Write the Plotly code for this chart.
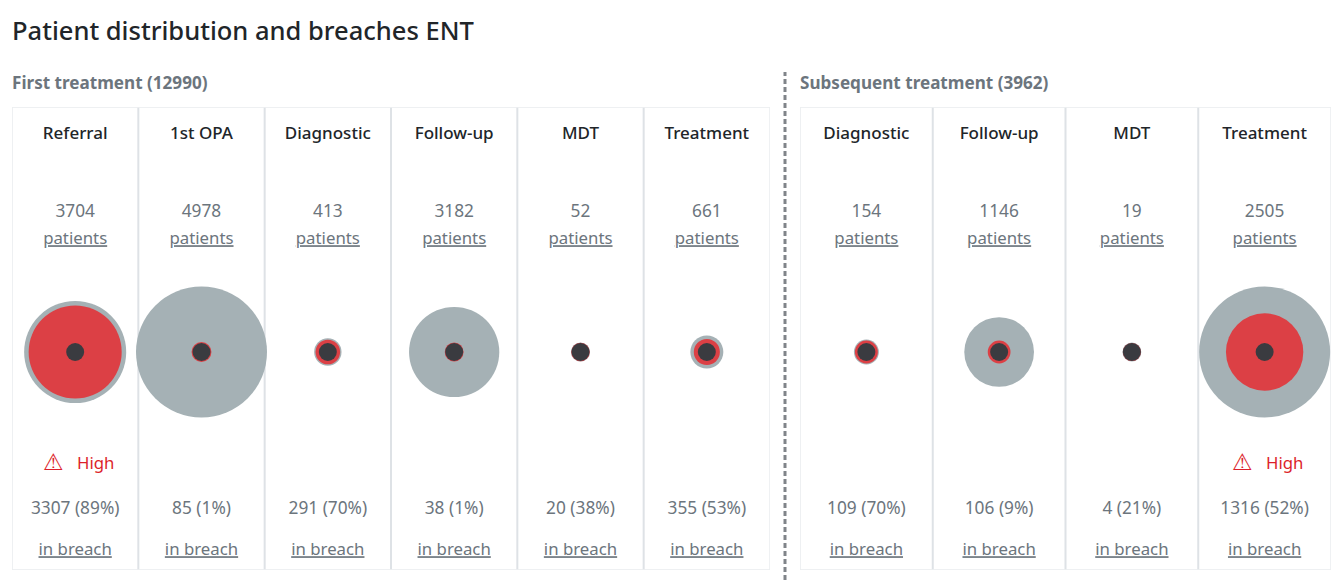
import plotly.graph_objects as go

TITLE = "Patient distribution and breaches ENT"

first_label = "First treatment (12990)"
first_stages = ["Referral", "1st OPA", "Diagnostic", "Follow-up", "MDT", "Treatment"]
first_patients = [3704, 4978, 413, 3182, 52, 661]
first_breach = [3307, 85, 291, 38, 20, 355]
first_pct = [89, 1, 70, 1, 38, 53]
first_high = [True, False, False, False, False, False]

second_label = "Subsequent treatment (3962)"
second_stages = ["Diagnostic", "Follow-up", "MDT", "Treatment"]
second_patients = [154, 1146, 19, 2505]
second_breach = [109, 106, 4, 1316]
second_pct = [70, 9, 21, 52]
second_high = [False, False, False, True]

W, H = 1340, 580
FONT = "Noto Sans"
GREY, RED, DARK = "#a5b1b5", "#dc4045", "#3a3b40"
MUTED, INK, ALERT, BORDER = "#6c757d", "#212529", "#dc1f2b", "#dee2e6"
ROW = dict(head=135, count=213, pat=240, mid=352, high=462, breach=510, link=551)
TOP, BOTTOM = 107.5, 569.5
MIN_D, SPAN_D = 18, 113


def size(value, biggest):
    return MIN_D + SPAN_D * value / biggest


fig = go.Figure()
shapes = []
annotations = []


def panel(suffix, stages, patients, breach, pct, high, left, right):
    xa, ya = "x" + suffix, "y" + suffix
    biggest = max(patients)
    n = len(stages)

    def rowtrace(text, row, color, sz=16.8, weight=None):
        fig.add_trace(go.Scatter(
            x=stages, y=[ROW[row]] * len(text), text=text,
            mode="text", textposition="middle center", xaxis=xa, yaxis=ya,
            textfont=dict(family=FONT, size=sz, color=color, weight=weight),
            hoverinfo="skip", cliponaxis=False, showlegend=False))

    for vals, col in ((patients, GREY), (breach, RED)):
        fig.add_trace(go.Scatter(
            x=stages, y=[ROW["mid"]] * n, mode="markers", xaxis=xa, yaxis=ya,
            marker=dict(size=[size(v, biggest) for v in vals], color=col, opacity=1, line_width=0),
            cliponaxis=False, showlegend=False))
    fig.add_trace(go.Scatter(
        x=stages, y=[ROW["mid"]] * n, mode="markers", xaxis=xa, yaxis=ya,
        marker=dict(size=MIN_D, color=DARK, opacity=1, line_width=0),
        cliponaxis=False, showlegend=False))

    rowtrace(stages, "head", INK, 17, weight=500)
    rowtrace([str(v) for v in patients], "count", MUTED, 17.3)
    rowtrace(["<u>patients</u>"] * n, "pat", MUTED)
    rowtrace([f"{b} ({p}%)" for b, p in zip(breach, pct)], "breach", MUTED, 17.3)
    rowtrace(["<u>in breach</u>"] * n, "link", MUTED)

    for i, flag in enumerate(high):
        if flag:
            annotations.append(dict(xref=xa, yref=ya, x=stages[i], y=ROW["high"], xshift=20,
                                    text="High", showarrow=False,
                                    font=dict(family=FONT, size=16.8, color=ALERT)))
            annotations.append(dict(xref=xa, yref=ya, x=stages[i], y=ROW["high"], xshift=-22,
                                    text="\u26a0", showarrow=False,
                                    font=dict(family="DejaVu Sans", size=23, color=ALERT)))

    shapes.append(dict(type="rect", xref=xa, yref=ya, x0=-0.5, x1=n - 0.5, y0=TOP, y1=BOTTOM,
                       line=dict(color=BORDER, width=1), layer="below"))
    for i in range(1, n):
        shapes.append(dict(type="line", xref=xa, yref=ya, x0=i - 0.5, x1=i - 0.5, y0=TOP, y1=BOTTOM,
                           line=dict(color=BORDER, width=2), layer="below"))

    fig.update_layout({
        "xaxis" + suffix: dict(type="category", categoryorder="array", categoryarray=stages,
                               range=[-0.5, n - 0.5], domain=[left / W, right / W],
                               visible=False, fixedrange=True, anchor=ya),
        "yaxis" + suffix: dict(range=[BOTTOM, TOP], domain=[1 - BOTTOM / H, 1 - TOP / H],
                               visible=False, fixedrange=True, anchor=xa),
    })


panel("", first_stages, first_patients, first_breach, first_pct, first_high, 12, 770)
panel("2", second_stages, second_patients, second_breach, second_pct, second_high, 800, 1331)

for text, x in ((first_label, 10), (second_label, 798)):
    annotations.append(dict(xref="paper", yref="paper", x=x / W, y=1 - 82.6 / H, xanchor="left",
                            yanchor="middle", text=text, showarrow=False,
                            font=dict(family=FONT, size=17.1, color=MUTED, weight=700)))
annotations.append(dict(xref="paper", yref="paper", x=10 / W, y=1 - 30 / H, xanchor="left",
                        yanchor="middle", text=TITLE, showarrow=False,
                        font=dict(family=FONT, size=25.5, color=INK, weight=500)))
shapes.append(dict(type="line", xref="paper", yref="paper", x0=785 / W, x1=785 / W,
                   y0=0, y1=1 - 72 / H, line=dict(color="#808489", width=3, dash="5px,3px")))

fig.update_layout(width=W, height=H, margin=dict(l=0, r=0, t=0, b=0, pad=0),
                  paper_bgcolor="white", plot_bgcolor="white", showlegend=False,
                  shapes=shapes, annotations=annotations, hovermode="closest")
fig.write_html("out.html", config={"displayModeBar": False},
               post_script="document.body.style.margin='0';document.body.style.overflow='hidden';")
